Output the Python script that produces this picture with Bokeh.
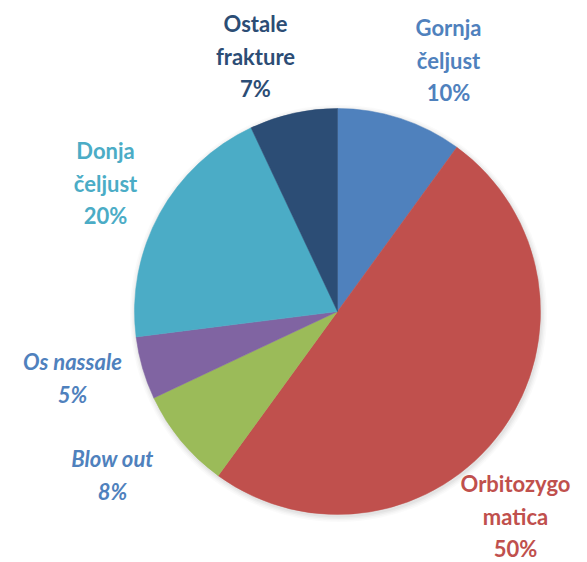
import math
from bokeh.plotting import figure
from bokeh.models import Range1d, ColumnDataSource
from bokeh.core.properties import value
from bokeh.embed import file_html
from bokeh.resources import INLINE

# ---- data ----
categories = ["Gornja čeljust", "Orbitozygomatica", "Blow out", "Os nassale", "Donja čeljust", "Ostale frakture"]
values = [10, 50, 8, 5, 20, 7]
slice_colors = ["#4F81BD", "#C0504D", "#9BBB59", "#8064A2", "#4BACC6", "#2C4D75"]
label_lines = [["Gornja", "čeljust"], ["Orbitozygo", "matica"], ["Blow out"], ["Os nassale"], ["Donja", "čeljust"], ["Ostale", "frakture"]]
label_colors = ["#4F81BD", "#C0504D", "#4F81BD", "#4F81BD", "#4BACC6", "#2C4D75"]
label_styles = ["bold", "bold", "bold italic", "bold italic", "bold", "bold"]

# ---- layout (screen pixels) ----
W, H = 587, 562
cx, cy, R = 337, 311, 203
label_pos = [(448, 27), (515, 483), (112, 458), (72, 361), (105, 150), (255, 23)]
line_gap = 32.5
font_size = "22px"

def Y(sy):
    return H - sy

p = figure(width=W, height=H, output_backend="svg", toolbar_location=None,
           x_range=Range1d(0, W), y_range=Range1d(0, H),
           min_border=0, outline_line_color=None)
p.axis.visible = False
p.grid.visible = False
p.background_fill_color = "white"

# soft shadow
for i, a in enumerate([0.035, 0.03, 0.025, 0.02]):
    p.circle(x=[cx + 1], y=[Y(cy + 2)], radius=R + 1 + i * 1.5, fill_color="black",
             fill_alpha=a, line_color=None)

total = sum(values)
starts, ends = [], []
cum = 0
for v in values:
    starts.append(math.pi / 2 - 2 * math.pi * cum / total)
    cum += v
    ends.append(math.pi / 2 - 2 * math.pi * cum / total)

src = ColumnDataSource(dict(start=starts, end=ends, color=slice_colors))
p.wedge(x=cx, y=Y(cy), radius=R, start_angle="start", end_angle="end",
        direction="clock", fill_color="color", line_color="color", line_width=0.5, source=src)

for i, cat in enumerate(categories):
    lines = label_lines[i] + [f"{values[i]}%"]
    lx, ly = label_pos[i]
    for j, t in enumerate(lines):
        p.text(x=[lx], y=[Y(ly + j * line_gap)], text=[t], text_align="center",
               text_baseline="middle", text_font=value("Lato"), text_font_size=font_size,
               text_font_style=label_styles[i], text_color=label_colors[i])

open("out.html", "w").write(file_html(p, INLINE))
